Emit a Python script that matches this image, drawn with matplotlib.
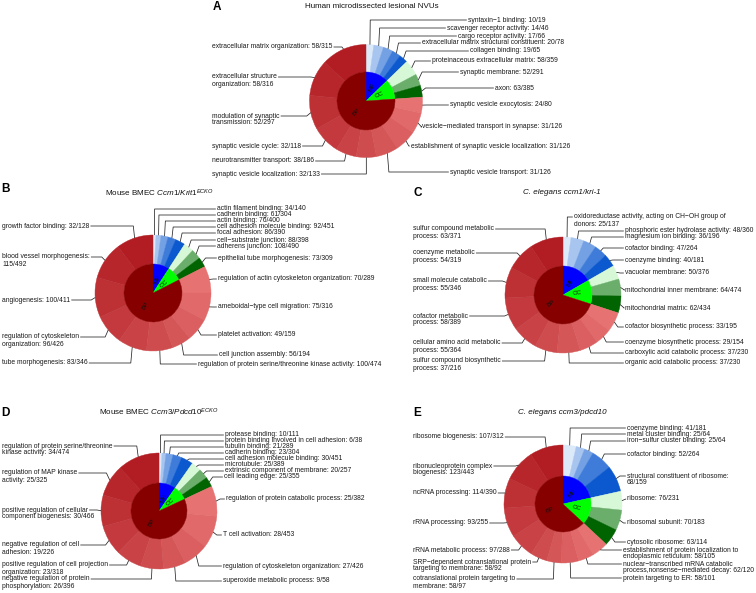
import textwrap
import numpy as np
import matplotlib
matplotlib.use("Agg")
import matplotlib.pyplot as plt
from matplotlib.colors import to_rgb

plt.rcParams['font.family'] = ['Liberation Sans', 'DejaVu Sans']
plt.rcParams['mathtext.fontset'] = 'custom'
plt.rcParams['mathtext.rm'] = 'Liberation Sans'
plt.rcParams['mathtext.it'] = 'Liberation Sans:italic'

M = "\u2212"
ONT = ["MF", "CC", "BP"]
N_GROUP = [5, 3, 10]

# ------------------------------------------------------------------ data
a_terms = ["syntaxin" + M + "1 binding", "scavenger receptor activity", "cargo receptor activity",
           "extracellular matrix structural constituent", "collagen binding",
           "proteinaceous extracellular matrix", "synaptic membrane", "axon",
           "synaptic vesicle exocytosis", "vesicle" + M + "mediated transport in synapse",
           "establishment of synaptic vesicle localization", "synaptic vesicle transport",
           "synaptic vesicle localization", "neurotransmitter transport", "synaptic vesicle cycle",
           "modulation of synaptic transmission", "extracellular structure organization",
           "extracellular matrix organization"]
a_counts = ["10/19", "14/46", "17/66", "20/78", "19/65", "58/359", "52/291", "63/385", "24/80",
            "31/126", "31/126", "31/126", "32/133", "38/186", "32/118", "52/297", "58/316", "58/315"]
a_share = [8, 10, 10, 9, 9, 16, 12, 12,
           16.35, 21.35, 22.5, 23.15, 20.65, 21.5, 29, 35.2, 37.5, 46.8]

b_terms = ["actin filament binding", "cadherin binding", "actin binding",
           "cell adhesion molecule binding", "focal adhesion", "cell" + M + "substrate junction",
           "adherens junction", "epithelial tube morphogenesis",
           "regulation of actin cytoskeleton organization", "ameboidal" + M + "type cell migration",
           "platelet activation", "cell junction assembly",
           "regulation of protein serine/threonine kinase activity", "tube morphogenesis",
           "regulation of cytoskeleton organization", "angiogenesis", "blood vessel morphogenesis",
           "growth factor binding"]
b_counts = ["34/140", "61/304", "76/400", "92/451", "86/390", "88/398", "108/490", "73/309",
            "70/289", "75/316", "49/159", "56/194", "100/474", "83/346", "96/426", "100/411",
            "115/492", "32/128"]
b_share = [3, 5, 7, 8, 10, 10, 10, 10, 27, 27.75, 23, 19.25, 26.5, 29, 30, 40, 37.5, 37]

c_terms = ["oxidoreductase activity, acting on CH" + M + "OH group of donors",
           "phosphoric ester hydrolase activity", "magnesium ion binding", "cofactor binding",
           "coenzyme binding", "vacuolar membrane", "mitochondrial inner membrane",
           "mitochondrial matrix", "cofactor biosynthetic process", "coenzyme biosynthetic process",
           "carboxylic acid catabolic process", "organic acid catabolic process",
           "sulfur compound biosynthetic process", "cellular amino acid metabolic process",
           "cofactor metabolic process", "small molecule catabolic process",
           "coenzyme metabolic process", "sulfur compound metabolic process"]
c_counts = ["25/137", "48/360", "36/196", "47/264", "40/181", "50/376", "64/474", "62/434",
            "33/195", "29/154", "37/230", "37/230", "37/216", "55/364", "58/389", "55/346",
            "54/319", "63/371"]
c_share = [8, 13, 13, 13, 13, 14, 17, 17, 19.5, 16.5, 18.5, 23.5, 22.5, 25.5, 33, 31, 28.5, 33.5]

d_terms = ["protease binding", "protein binding involved in cell adhesion", "tubulin binding",
           "cadherin binding", "cell adhesion molecule binding", "microtubule",
           "extrinsic component of membrane", "cell leading edge",
           "regulation of protein catabolic process", "T cell activation",
           "regulation of cytoskeleton organization", "superoxide metabolic process",
           "negative regulation of protein phosphorylation",
           "positive regulation of cell projection organization",
           "negative regulation of cell adhesion",
           "positive regulation of cellular component biogenesis",
           "regulation of MAP kinase activity",
           "regulation of protein serine/threonine kinase activity"]
d_counts = ["10/111", "6/38", "21/289", "23/304", "30/451", "25/389", "20/257", "25/355",
            "25/382", "28/453", "27/426", "9/58", "26/396", "23/318", "19/226", "30/466",
            "25/325", "34/474"]
d_share = [3, 4, 7, 9, 12, 10, 10, 10, 30.25, 32, 25.75, 22.5, 23, 26, 30, 31.5, 32, 42]

e_terms = ["coenzyme binding", "metal cluster binding", "iron" + M + "sulfur cluster binding",
           "cofactor binding", "structural constituent of ribosome", "ribosome",
           "ribosomal subunit", "cytosolic ribosome",
           "establishment of protein localization to endoplasmic reticulum",
           "nuclear" + M + "transcribed mRNA catabolic process,nonsense" + M + "mediated decay",
           "protein targeting to ER", "cotranslational protein targeting to membrane",
           "SRP" + M + "dependent cotranslational protein targeting to membrane",
           "rRNA metabolic process", "rRNA processing", "ncRNA processing",
           "ribonucleoprotein complex biogenesis", "ribosome biogenesis"]
e_counts = ["41/181", "25/64", "25/64", "52/264", "68/159", "76/231", "70/183", "63/114",
            "58/105", "62/120", "58/101", "58/97", "58/92", "97/288", "93/255", "114/390",
            "123/443", "107/312"]
e_share = [13, 8.5, 9, 21, 26, 18.5, 20, 17, 16, 15.5, 17, 14.5, 16.5, 24.5, 29, 29.5, 31.5, 33]

titles = ["Human microdissected lesional NVUs",
          r"Mouse BMEC $\mathit{Ccm1/Krit1}^{\mathit{ECKO}}$",
          "C. elegans ccm1/kri-1",
          r"Mouse BMEC $\mathit{Ccm3/Pdcd10}^{\mathit{ECKO}}$",
          "C. elegans ccm3/pdcd10"]
letters = ["A", "B", "C", "D", "E"]

# ------------------------------------------------------------------ layout (pixels, y from top)
W, H = 756, 593
layout = {
    "A": dict(c=(366, 101), R=56.5, r=29, title=(372, 6), title_it=False, letter=(213, 7),
              right=[(468, 20), (447, 28), (458, 36), (422, 43), (470, 51), (432, 61), (460, 72),
                     (495, 88), (450, 105), (422, 127), (411, 146), (450, 172)],
              left_x=212, left_y=[174, 161, 146, 116, 77, 47], wrap={15: 22, 16: 24}),
    "B": dict(c=(153, 293), R=58, r=29, title=(159, 193), title_it=False, letter=(1, 189),
              right=[(217, 209), (217, 215), (217, 221), (217, 227), (217, 233), (217, 240),
                     (217, 246), (218, 258), (218, 279), (218, 307), (218, 335), (219, 355),
                     (198, 364)],
              left_x=2, left_y=[363, 337, 300, 257, 226], wrap={14: 27, 16: 28}),
    "C": dict(c=(563, 295), R=58, r=29, title=(562, 193), title_it=True, letter=(413, 193),
              right=[(574, 217), (625, 231), (625, 237), (625, 248), (625, 260), (625, 273),
                     (625, 290), (625, 308), (625, 327), (625, 342), (625, 353), (625, 363)],
              left_x=413, left_y=[361, 343, 316, 281, 253, 229],
              wrap={0: 49, 12: 28, 13: 29, 14: 18, 15: 24, 16: 18, 17: 25}),
    "D": dict(c=(159, 511), R=58, r=28, title=(159, 412), title_it=False, letter=(1, 413),
              right=[(225, 435), (225, 441), (225, 447), (225, 453), (225, 459), (225, 465),
                     (225, 471), (224, 477), (226, 499), (223, 535), (223, 566), (223, 581)],
              left_x=2, left_y=[579, 565, 545, 510, 473, 446],
              wrap={12: 30, 13: 38, 14: 27, 15: 31, 16: 24, 17: 38}),
    "E": dict(c=(563, 504), R=59, r=28, title=(562, 412), title_it=True, letter=(413, 413),
              right=[(627, 428), (627, 434), (627, 441), (627, 454), (627, 476), (627, 499),
                     (627, 523), (627, 542), (623, 550), (623, 564), (623, 578)],
              left_x=413, left_y=[579, 562, 550, 523, 493, 466, 437],
              wrap={4: 35, 8: 40, 9: 34, 11: 36, 12: 37, 16: 25}),
}

FS_LAB = 4.9
FS_TITLE = 5.8
FS_LET = 8.5
FS_INNER = 4.6
LINE_SP = 7.0
LINE_COL = "#262626"
TXT_COL = "#1a1a1a"

def ramp(c1, c2, n):
    a, b = np.array(to_rgb(c1)), np.array(to_rgb(c2))
    return [tuple(a + (b - a) * t) for t in np.linspace(0, 1, n)]

GROUP_COLS = [ramp("#dce9f9", "#0b58cf", N_GROUP[0]),
              ramp("#d6f8d6", "#006400", N_GROUP[1]),
              ramp("#e77272", "#b11d22", N_GROUP[2])]
INNER_COLS = ["#0000ff", "#00ff00", "#870000"]

fig = plt.figure(figsize=(W / 100, H / 100), dpi=100)
ax = fig.add_axes([0, 0, 1, 1])
ax.set_xlim(0, W)
ax.set_ylim(0, H)
renderer = fig.canvas.get_renderer()

def Y(py):
    return H - py

def seal(patches):
    for p in patches:
        p.set_edgecolor(p.get_facecolor())
        p.set_linewidth(0.3)

def split_label(lab, width):
    if not width:
        return [lab]
    parts = textwrap.wrap(lab, width, break_on_hyphens=False, break_long_words=False)
    if len(parts) <= 1:
        return parts
    return [parts[0], " ".join(parts[1:])]

def panel(key, terms, counts, share, title, letter):
    L = layout[key]
    cx, cy = L["c"][0], Y(L["c"][1])
    R, r = L["R"], L["r"]
    cols = GROUP_COLS[0] + GROUP_COLS[1] + GROUP_COLS[2]
    wedges, _ = ax.pie(share, radius=R, center=(cx, cy), startangle=90, counterclock=False,
                       colors=cols, frame=True, wedgeprops=dict(width=R - r))
    seal(wedges)
    idx = np.cumsum([0] + N_GROUP)
    inner = [sum(share[idx[i]:idx[i + 1]]) for i in range(3)]
    iw, _ = ax.pie(inner, radius=r, center=(cx, cy), startangle=90, counterclock=False,
                   colors=INNER_COLS, frame=True)
    seal(iw)
    ax.set_xlim(0, W)
    ax.set_ylim(0, H)
    for w, name in zip(iw, ONT):
        mid = (w.theta1 + w.theta2) / 2
        th = np.deg2rad(mid)
        rot = mid % 360
        if 90 < rot < 270:
            rot -= 180
        ax.text(cx + 0.5 * r * np.cos(th), cy + 0.5 * r * np.sin(th), name, fontsize=FS_INNER,
                rotation=rot, ha="center", va="center", rotation_mode="anchor", color="#111111")
    n_right = len(L["right"])
    labels = [f"{t}: {c}" for t, c in zip(terms, counts)]
    for i, (w, lab) in enumerate(zip(wedges, labels)):
        mid = np.deg2rad((w.theta1 + w.theta2) / 2)
        qx, qy = cx + R * np.cos(mid), cy + R * np.sin(mid)
        px = qx + 4 * np.cos(mid)
        lines = split_label(lab, L["wrap"].get(i))
        if i < n_right:
            x0, y0 = L["right"][i]
        else:
            x0, y0 = L["left_x"], L["left_y"][i - n_right]
        yd = Y(y0)
        ts = []
        for k, line in enumerate(lines):
            ts.append(ax.text(x0, yd - k * LINE_SP, line, fontsize=FS_LAB, ha="left", va="center",
                              color=TXT_COL))
        if i < n_right:
            xl = x0 - 1.2
        else:
            bb = ts[0].get_window_extent(renderer=renderer)
            xl = bb.x1 + 1.2
        ax.plot([xl, px, qx], [yd, yd, qy], color=LINE_COL, lw=0.55, solid_capstyle="butt")
    tx, ty = layout[key]["title"]
    ax.text(tx, Y(ty), title, fontsize=FS_TITLE, ha="center", va="center",
            style="italic" if L["title_it"] else "normal", color="#111111")
    lx, ly = layout[key]["letter"]
    ax.text(lx, Y(ly), letter, fontsize=FS_LET, fontweight="bold", ha="left", va="center",
            color="black")

panel("A", a_terms, a_counts, a_share, titles[0], letters[0])
panel("B", b_terms, b_counts, b_share, titles[1], letters[1])
panel("C", c_terms, c_counts, c_share, titles[2], letters[2])
panel("D", d_terms, d_counts, d_share, titles[3], letters[3])
panel("E", e_terms, e_counts, e_share, titles[4], letters[4])

ax.set_xlim(0, W)
ax.set_ylim(0, H)
ax.set_aspect("auto")
ax.axis("off")
fig.savefig("out.png", dpi=100)
